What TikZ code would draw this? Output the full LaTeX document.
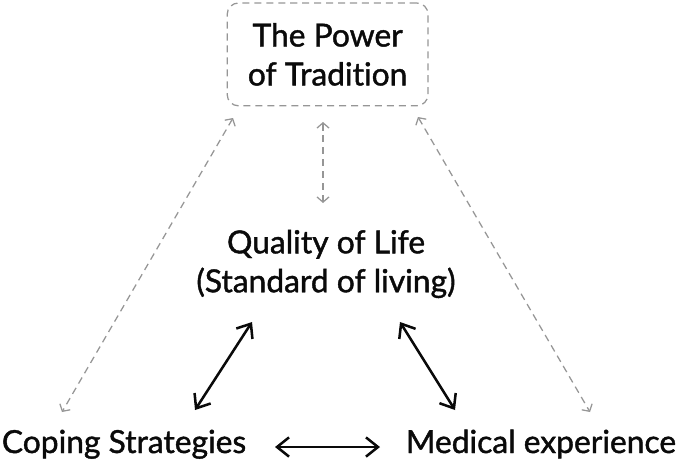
\documentclass[tikz,border=0pt]{standalone}
\usepackage{fontspec}
\setsansfont[FakeBold=1.3,Ligatures=NoCommon]{Lato}
\usepackage{tikz}
\usetikzlibrary{arrows.meta}
\definecolor{inkblack}{RGB}{10,10,10}
\definecolor{dashgrey}{RGB}{150,150,150}
\tikzset{
  base/.style={font=\sffamily\fontsize{22.6}{27.7}\selectfont, align=center, inner sep=0pt, text=inkblack},
  box/.style={base, rectangle, rounded corners=8pt, draw=dashgrey, line width=0.9pt, dash pattern=on 5pt off 3.5pt, minimum width=5.02cm, minimum height=2.57cm},
  arr2/.style={line width=1.8pt, draw=inkblack, arrows={Straight Barb[length=3mm,width=4.8mm]-Straight Barb[length=3mm,width=4.8mm]}},
  arrd/.style={line width=0.9pt, draw=dashgrey, dash pattern=on 5pt off 3.5pt, arrows={Straight Barb[length=1.3mm,width=3mm]-Straight Barb[length=1.3mm,width=3mm]}},
}
\begin{document}
\begin{tikzpicture}
  \useasboundingbox (0,0) rectangle (17,11.65);
  \node[box] (trad) at (8.19,10.29) {The Power\\of Tradition};
  \node[base] (qol) at (8.15,5.05) {Quality of Life\\(Standard of living)};
  \node[base,anchor=base] (cope) at (3.1,0.325) {Coping Strategies};
  \node[base,anchor=base] (med) at (13.525,0.325) {Medical experience};
  % links to the tradition box
  \draw[arrd] ([shift={(-2.365,-1.59)}]trad.center) -- ([shift={(-1.55,1.025)}]cope.base);
  \draw[arrd] ([shift={(-0.115,-1.69)}]trad.center) -- ([shift={(-0.075,1.525)}]qol.center);
  \draw[arrd] ([shift={(2.26,-1.565)}]trad.center) -- ([shift={(1.225,1.025)}]med.base);
  % links round the triangle
  \draw[arr2] ([shift={(-1.85,-1.45)}]qol.center) -- ([shift={(1.775,1.075)}]cope.base);
  \draw[arr2] ([shift={(1.85,-1.45)}]qol.center) -- ([shift={(-2.15,1.075)}]med.base);
  \draw[arr2] ([shift={(3.775,0.15)}]cope.base) -- ([shift={(-4.025,0.15)}]med.base);
\end{tikzpicture}
\end{document}
